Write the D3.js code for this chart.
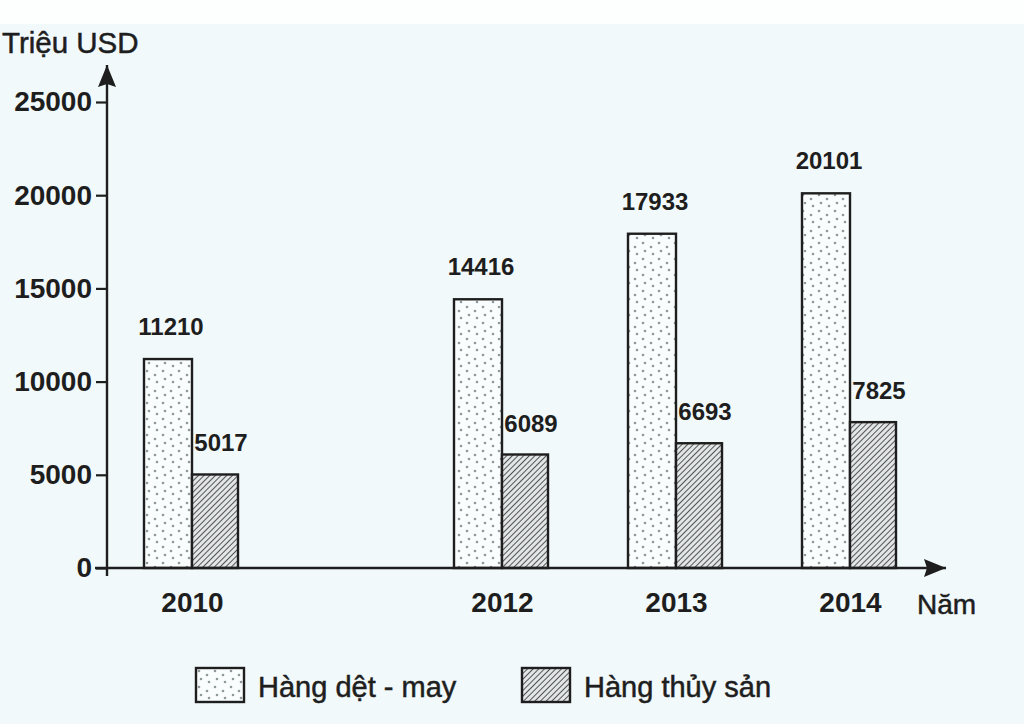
<!DOCTYPE html>
<html>
<head>
<meta charset="utf-8">
<script src="https://cdn.jsdelivr.net/npm/d3@7"></script>
<style>
  body { margin: 0; background: #f1f9fa; }
  svg { display: block; }
</style>
</head>
<body>
<script>
//Chart data
var years = [2010, 2012, 2013, 2014];
var textile = [11210, 14416, 17933, 20101];
var fishery = [5017, 6089, 6693, 7825];
var yTicks = [0, 5000, 10000, 15000, 20000, 25000];
var seriesNames = ["Hàng dệt - may", "Hàng thủy sản"];

//Dimensions
var width = 1024,
    height = 724,
    axisX = 107,
    axisY = 568,
    topY = 102,
    barWidth = 48,
    ink = "#1e1e1e",
    font = "'Liberation Sans', Arial, sans-serif";

//Create the svg
const svg = d3.select("body")
    .append("svg")
    .attr("width", width)
    .attr("height", height)
    .style("font-family", font);

svg.append("rect")
    .attr("width", width).attr("height", height)
    .attr("fill", "#f1f9fa");
svg.append("rect")
    .attr("width", width).attr("height", 24)
    .attr("fill", "#fdfefe");

const defs = svg.append("defs");

//Dotted pattern for textile bars
const dots = defs.append("pattern")
    .attr("id", "dots")
    .attr("patternUnits", "userSpaceOnUse")
    .attr("width", 16).attr("height", 16);
dots.append("rect").attr("width", 16).attr("height", 16).attr("fill", "#fafdfd");
[[3, 3], [11, 7], [5, 11], [13, 14]].forEach(function(p) {
    dots.append("circle").attr("cx", p[0]).attr("cy", p[1]).attr("r", 1.3).attr("fill", "#8f999c");
});

//Hatch pattern for fishery bars
const hatch = defs.append("pattern")
    .attr("id", "hatch")
    .attr("patternUnits", "userSpaceOnUse")
    .attr("width", 4).attr("height", 4)
    .attr("patternTransform", "rotate(45)");
hatch.append("rect").attr("width", 4).attr("height", 4).attr("fill", "#e2e6e6");
hatch.append("line")
    .attr("x1", 0).attr("y1", 0).attr("x2", 0).attr("y2", 4)
    .attr("stroke", "#3a3a3a").attr("stroke-width", 1.7);

//Arrow marker
defs.append("marker")
    .attr("id", "arrow")
    .attr("viewBox", "0 0 22 20")
    .attr("refX", 22).attr("refY", 10)
    .attr("markerWidth", 22).attr("markerHeight", 20)
    .attr("markerUnits", "userSpaceOnUse")
    .attr("orient", "auto")
    .append("path")
    .attr("d", "M0,1L22,10L0,19L3,10Z")
    .attr("fill", ink);

//Scales
var x = d3.scaleLinear()
    .domain(years)
    .range([192, 502, 676, 850]);

var y = d3.scaleLinear()
    .domain([0, 25000])
    .range([axisY, topY]);

//Bars
const groups = svg.selectAll(".grp")
    .data(years)
    .join("g")
    .attr("class", "grp");

groups.append("rect")
    .attr("x", d => x(d) - barWidth)
    .attr("y", (d, i) => y(textile[i]))
    .attr("width", barWidth)
    .attr("height", (d, i) => y(0) - y(textile[i]))
    .attr("fill", "url(#dots)")
    .attr("stroke", ink).attr("stroke-width", 2.4);

groups.append("rect")
    .attr("x", d => x(d))
    .attr("y", (d, i) => y(fishery[i]))
    .attr("width", barWidth - 2)
    .attr("height", (d, i) => y(0) - y(fishery[i]))
    .attr("fill", "url(#hatch)")
    .attr("stroke", ink).attr("stroke-width", 2.4);

//Value labels
groups.append("text")
    .attr("x", d => x(d) - barWidth / 2 + 3)
    .attr("y", (d, i) => y(textile[i]) - 24)
    .attr("text-anchor", "middle")
    .attr("font-size", 24).attr("font-weight", "bold")
    .attr("fill", ink)
    .text((d, i) => textile[i]);

groups.append("text")
    .attr("x", d => x(d) + barWidth / 2 + 5)
    .attr("y", (d, i) => y(fishery[i]) - 23)
    .attr("text-anchor", "middle")
    .attr("font-size", 24).attr("font-weight", "bold")
    .attr("fill", ink)
    .text((d, i) => fishery[i]);

//Y axis
const yAxis = svg.append("g")
    .attr("transform", `translate(${axisX},0)`)
    .call(d3.axisLeft(y).tickValues(yTicks).tickSize(11).tickPadding(4).tickFormat(d3.format("d")))
    .call(g => g.select(".domain").remove());
yAxis.selectAll(".tick line").attr("stroke", ink).attr("stroke-width", 2.2);
yAxis.selectAll(".tick text")
    .attr("font-size", 28).attr("font-weight", "bold")
    .attr("fill", ink).attr("font-family", font);

svg.append("line")
    .attr("x1", axisX).attr("y1", axisY + 8)
    .attr("x2", axisX).attr("y2", 65)
    .attr("stroke", ink).attr("stroke-width", 2.4)
    .attr("marker-end", "url(#arrow)");

//X axis
svg.append("line")
    .attr("x1", axisX - 12).attr("y1", axisY)
    .attr("x2", 946).attr("y2", axisY)
    .attr("stroke", ink).attr("stroke-width", 2.4)
    .attr("marker-end", "url(#arrow)");

const xAxis = svg.append("g")
    .attr("transform", `translate(0,${axisY})`)
    .call(d3.axisBottom(x).tickValues(years).tickSize(0).tickPadding(24).tickFormat(d3.format("d")))
    .call(g => g.select(".domain").remove());
xAxis.selectAll(".tick text")
    .attr("font-size", 28).attr("font-weight", "bold")
    .attr("fill", ink).attr("font-family", font);

//Axis titles
svg.append("text")
    .attr("x", 2).attr("y", 53)
    .attr("font-size", 29.5).attr("fill", ink)
    .attr("stroke", ink).attr("stroke-width", 0.5)
    .text("Triệu USD");

svg.append("text")
    .attr("x", 917).attr("y", 614)
    .attr("font-size", 28).attr("fill", ink)
    .attr("stroke", ink).attr("stroke-width", 0.5)
    .text("Năm");

//Legend
var legendX = [196, 522];
var legendFill = ["url(#dots)", "url(#hatch)"];
const legend = svg.selectAll(".leg")
    .data(seriesNames)
    .join("g")
    .attr("class", "leg")
    .attr("transform", (d, i) => `translate(${legendX[i]},668)`);

legend.append("rect")
    .attr("width", 48).attr("height", 34)
    .attr("fill", (d, i) => legendFill[i])
    .attr("stroke", ink).attr("stroke-width", 2.4);

legend.append("text")
    .attr("x", 62).attr("y", 29)
    .attr("font-size", 29).attr("fill", ink)
    .attr("stroke", ink).attr("stroke-width", 0.5)
    .text(d => d);
</script>
</body>
</html>
